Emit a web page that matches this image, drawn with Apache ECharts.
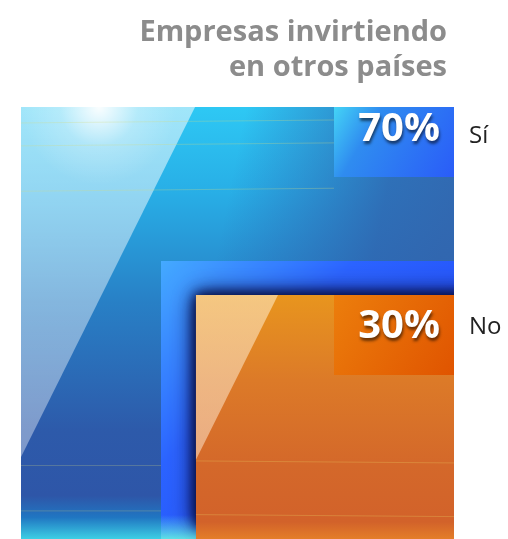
<!DOCTYPE html>
<html>
<head>
<meta charset="utf-8">
<script src="https://cdn.jsdelivr.net/npm/echarts@6/dist/echarts.min.js"></script>
<style>
html,body{margin:0;padding:0;background:#fff;}
#c{width:508px;height:539px;}
</style>
</head>
<body>
<div id="c"></div>
<script>
// ---- data ----
const titleText = 'Empresas invirtiendo\nen otros países';
const categories = ['Sí', 'No'];
const values = [70, 30];
const total = values.reduce((a, b) => a + b, 0);

const chart = echarts.init(document.getElementById('c'), null, {renderer: 'canvas'});
const G = echarts.graphic;

// layout / style constants
const KX = 1.088, KY = 1.031;   // aspect of nested squares
const FRAME_X = 35, FRAME_Y = 34;
const BOX_W = 120;
const BOX_H = [70, 80];
const TXT_DY = [23, 32];
const CAT_DY = [29, 32];

function renderItem(params, api) {
  const i = api.value(0);
  const v = api.value(1);
  let area = 0;
  for (let k = i; k < values.length; k++) area += values[k];
  const frac = Math.sqrt(area / total);
  const fx = Math.min(1, frac * KX), fy = Math.min(1, frac * KY);
  const br = api.coord([100, 0]);
  const tl = api.coord([100 - fx * 100, fy * 100]);
  const x0 = tl[0], y0 = tl[1], x1 = br[0], y1 = br[1];
  const w = x1 - x0, h = y1 - y0;
  const children = [];
  const labelTxt = v + '%';

  if (i === 0) {
    children.push({type: 'rect', shape: {x: x0, y: y0, width: w, height: h}, style: {
      fill: new G.LinearGradient(0, 0, 0, 1, [
        {offset: 0, color: '#2ec8f4'},
        {offset: 0.2, color: '#28aee6'},
        {offset: 0.45, color: '#2880c6'},
        {offset: 0.75, color: '#2d5aaa'},
        {offset: 0.9, color: '#2e56a8'},
        {offset: 0.95, color: '#2076c2'},
        {offset: 1, color: '#3ccfe4'}
      ])}});
    children.push({type: 'rect', shape: {x: x0, y: y0, width: w, height: h * 0.8}, style: {
      fill: new G.LinearGradient(0, 0, 1, 0.25, [
        {offset: 0, color: 'rgba(44,96,176,0)'},
        {offset: 0.5, color: 'rgba(44,96,176,0)'},
        {offset: 0.85, color: 'rgba(48,96,172,0.8)'},
        {offset: 1, color: 'rgba(50,98,172,0.9)'}
      ])}});
    // glossy light band
    children.push({type: 'polygon', shape: {points: [[x0, y0], [x0 + w * 0.402, y0], [x0, y0 + h * 0.81]]}, style: {
      fill: new G.LinearGradient(0, 0, 0, 1, [
        {offset: 0, color: 'rgba(255,255,255,0.55)'},
        {offset: 0.6, color: 'rgba(255,255,255,0.42)'},
        {offset: 1, color: 'rgba(255,255,255,0.38)'}
      ])}});
    children.push({type: 'rect', shape: {x: x0, y: y0, width: w * 0.45, height: h * 0.3}, style: {
      fill: new G.RadialGradient(0.4, 0, 0.6, [
        {offset: 0, color: 'rgba(255,255,255,0.95)'},
        {offset: 0.5, color: 'rgba(255,255,255,0.22)'},
        {offset: 1, color: 'rgba(255,255,255,0)'}
      ])}});
    // faint texture lines
    [0.037, 0.09, 0.195].forEach(function (f) {
      children.push({type: 'line', shape: {x1: x0, y1: y0 + h * f, x2: x1 - BOX_W, y2: y0 + h * f - 3}, style: {stroke: 'rgba(210,220,130,0.3)', lineWidth: 1}});
    });
    [0.83, 0.935].forEach(function (f) {
      children.push({type: 'line', shape: {x1: x0, y1: y0 + h * f, x2: x0 + w, y2: y0 + h * f}, style: {stroke: 'rgba(200,210,130,0.28)', lineWidth: 1}});
    });
    // label box
    children.push({type: 'rect', shape: {x: x1 - BOX_W, y: y0, width: BOX_W, height: BOX_H[i]}, style: {
      fill: new G.LinearGradient(0, 0, 1, 1, [
        {offset: 0, color: '#44d4f6'},
        {offset: 0.3, color: '#2f8cf0'},
        {offset: 1, color: '#2a5cf8'}
      ])}});
  } else {
    // blue frame
    const fx0 = x0 - FRAME_X, fy0 = y0 - FRAME_Y;
    const inner = [];
    inner.push({type: 'rect', shape: {x: fx0, y: fy0, width: x1 - fx0, height: y1 - fy0}, style: {
      fill: new G.LinearGradient(0, 0, 1, 1, [
        {offset: 0, color: '#44aaff'},
        {offset: 0.35, color: '#2a62ff'},
        {offset: 1, color: '#1c40f4'}
      ])}});
    inner.push({type: 'rect', shape: {x: fx0, y: y1 - 24, width: x1 - fx0, height: 24}, style: {
      fill: new G.LinearGradient(0, 0, 0, 1, [
        {offset: 0, color: 'rgba(96,232,228,0)'},
        {offset: 1, color: 'rgba(96,232,228,0.95)'}
      ])}});
    // orange square with dark inner glow
    [24, 16, 10].forEach(function (b) {
      inner.push({type: 'rect', shape: {x: x0, y: y0, width: w + 30, height: h - 14}, style: {
        fill: '#0a1650', shadowBlur: b, shadowColor: 'rgba(6,14,70,0.95)'}});
    });
    children.push({type: 'group', children: inner,
      clipPath: {type: 'rect', shape: {x: fx0, y: fy0, width: x1 - fx0, height: y1 - fy0}}});
    children.push({type: 'rect', shape: {x: x0, y: y0, width: w, height: h}, style: {
      fill: new G.LinearGradient(0, 0, 0, 1, [
        {offset: 0, color: '#e8951e'},
        {offset: 0.35, color: '#dc7a28'},
        {offset: 0.7, color: '#d4682a'},
        {offset: 0.93, color: '#d2622a'},
        {offset: 1, color: '#e47e28'}
      ])}});
    children.push({type: 'polygon', shape: {points: [[x0, y0], [x0 + w * 0.318, y0], [x0, y0 + h * 0.675]]}, style: {
      fill: new G.LinearGradient(0, 0, 0, 1, [
        {offset: 0, color: 'rgba(255,240,210,0.55)'},
        {offset: 1, color: 'rgba(255,235,215,0.5)'}
      ])}});
    [0.68, 0.9].forEach(function (f) {
      children.push({type: 'line', shape: {x1: x0, y1: y0 + h * f, x2: x1, y2: y0 + h * f + 2}, style: {stroke: 'rgba(230,190,90,0.35)', lineWidth: 1}});
    });
    children.push({type: 'rect', shape: {x: x1 - BOX_W, y: y0, width: BOX_W, height: BOX_H[i]}, style: {
      fill: new G.LinearGradient(0, 0, 1, 1, [
        {offset: 0, color: '#ec7e0c'},
        {offset: 1, color: '#e05400'}
      ])}});
  }
  children.push({type: 'text', style: {
    text: labelTxt, x: x1 - 14, y: y0 + TXT_DY[i], align: 'right', verticalAlign: 'middle',
    fill: '#ffffff', fontSize: 40, fontWeight: 'bold', fontFamily: 'Open Sans',
    textShadowColor: 'rgba(0,0,0,0.55)', textShadowBlur: 3, textShadowOffsetX: 1, textShadowOffsetY: 3
  }});
  children.push({type: 'text', style: {
    text: categories[i], x: x1 + 15, y: y0 + CAT_DY[i], align: 'left', verticalAlign: 'middle',
    fill: '#222222', fontSize: 24, fontFamily: 'Open Sans'
  }});
  return {type: 'group', children: children};
}

chart.setOption({
  animation: false,
  graphic: [{
    type: 'text', x: 447, y: 15,
    style: {text: titleText, align: 'right', verticalAlign: 'top', fontFamily: 'Open Sans', fontSize: 29, fontWeight: 'bold', fill: '#8c8c8c', lineHeight: 35}
  }],
  grid: {left: 21, right: 54, top: 107, bottom: 0},
  xAxis: {type: 'value', min: 0, max: 100, show: false},
  yAxis: {type: 'value', min: 0, max: 100, show: false},
  series: [{
    type: 'custom',
    renderItem: renderItem,
    clip: false,
    data: values.map(function (v, i) { return {name: categories[i], value: [i, v]}; })
  }]
});
</script>
</body>
</html>
